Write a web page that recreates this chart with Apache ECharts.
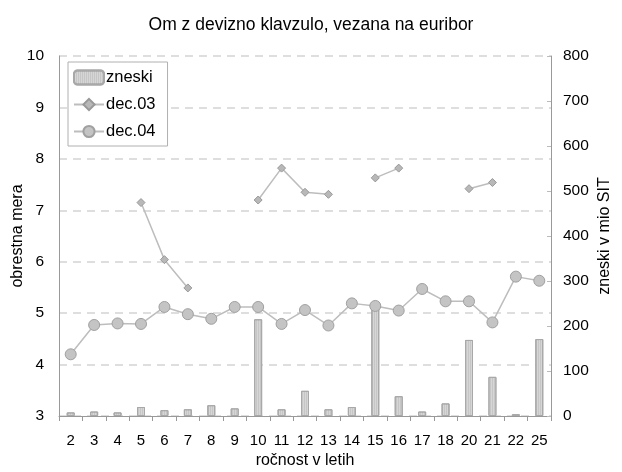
<!DOCTYPE html>
<html>
<head>
<meta charset="utf-8">
<script src="https://cdn.jsdelivr.net/npm/echarts@6/dist/echarts.min.js"></script>
<style>
  html, body { margin: 0; padding: 0; background: #fff; }
  #main { width: 622px; height: 472px; }
</style>
</head>
<body>
<div id="main"></div>
<script>
// ročnost (leta)
var years = ["2", "3", "4", "5", "6", "7", "8", "9", "10", "11", "12", "13", "14", "15", "16", "17", "18", "20", "21", "22", "25"];
// zneski v mio SIT
var zneski = [8, 10, 8, 20, 13, 15, 24, 17, 215, 15, 56, 15, 20, 240, 44, 10, 28, 169, 87, 4, 171];
// obrestna mera dec.03 (manjkajoče = '-')
var dec03 = ["-", "-", "-", 7.15, 6.04, 5.49, "-", "-", 7.2, 7.82, 7.35, 7.31, "-", 7.63, 7.82, "-", "-", 7.42, 7.54, "-", "-"];
// obrestna mera dec.04
var dec04 = [4.2, 4.77, 4.8, 4.79, 5.12, 4.98, 4.89, 5.12, 5.12, 4.79, 5.06, 4.76, 5.19, 5.14, 5.05, 5.47, 5.23, 5.23, 4.82, 5.71, 5.63];

var font = "Liberation Sans, Arial, sans-serif";
var chart = echarts.init(document.getElementById("main"));

var option = {
    animation: false,
    backgroundColor: "#fff",
    textStyle: { fontFamily: font },
    title: {
        text: "Om z devizno klavzulo, vezana na euribor",
        left: "center",
        top: 11,
        textStyle: { fontFamily: font, fontSize: 17.5, fontWeight: "normal", color: "#000" }
    },
    legend: {
        orient: "vertical",
        left: 68,
        top: 62,
        padding: [7, 12, 6, 5],
        itemGap: 10,
        itemWidth: 30,
        itemHeight: 14,
        borderColor: "#b0b0b0",
        borderWidth: 1,
        backgroundColor: "#fff",
        textStyle: { fontFamily: font, fontSize: 16.5, color: "#000", padding: [0, 0, 0, -3] },
        data: ["zneski", "dec.03", "dec.04"]
    },
    grid: { left: 59, right: 71, top: 56, bottom: 56, outerBoundsMode: "none" },
    xAxis: {
        type: "category",
        data: years,
        name: "ročnost v letih",
        nameLocation: "middle",
        nameGap: 37,
        nameMoveOverlap: false,
        nameTextStyle: { fontFamily: font, fontSize: 16, color: "#000" },
        axisLine: { lineStyle: { color: "#999" } },
        axisTick: { show: true, length: 5, lineStyle: { color: "#999" } },
        axisLabel: { fontFamily: font, fontSize: 15, color: "#000", margin: 17 }
    },
    yAxis: [
        {
            type: "value",
            min: 3,
            max: 10,
            interval: 1,
            name: "obrestna mera",
            nameLocation: "middle",
            nameGap: 33,
            nameMoveOverlap: false,
            nameRotate: 90,
            nameTextStyle: { fontFamily: font, fontSize: 16, color: "#000" },
            axisLine: { show: true, lineStyle: { color: "#999" } },
            axisTick: { show: false },
            axisLabel: { fontFamily: font, fontSize: 15.5, color: "#000", margin: 15 },
            splitLine: { show: true, lineStyle: { color: "#d4d4d4", type: [8, 6], width: 1.5 } }
        },
        {
            type: "value",
            min: 0,
            max: 800,
            interval: 100,
            name: "zneski v mio SIT",
            nameLocation: "middle",
            nameGap: 46,
            nameMoveOverlap: false,
            nameRotate: 90,
            nameTextStyle: { fontFamily: font, fontSize: 16, color: "#000" },
            axisLine: { show: true, lineStyle: { color: "#999" } },
            axisTick: { show: true, inside: true, length: 4, lineStyle: { color: "#bbb" } },
            axisLabel: { fontFamily: font, fontSize: 15.5, color: "#000", margin: 12 },
            splitLine: { show: false }
        }
    ],
    series: [
        {
            name: "zneski",
            type: "bar",
            yAxisIndex: 1,
            data: zneski,
            barWidth: 8,
            itemStyle: {
                color: "#d6d6d6",
                borderColor: "#a8a8a8",
                borderWidth: 1,
                decal: {
                    symbol: "rect",
                    symbolSize: 1,
                    dashArrayX: [1, 1],
                    dashArrayY: [4, 0],
                    color: "rgba(0,0,0,0.07)"
                }
            },
            z: 1
        },
        {
            name: "dec.03",
            type: "line",
            data: dec03,
            symbol: "diamond",
            symbolSize: 8,
            lineStyle: { color: "#bdbdbd", width: 1.5 },
            itemStyle: { color: "#b8b8b8", borderColor: "#999", borderWidth: 1 },
            z: 3
        },
        {
            name: "dec.04",
            type: "line",
            data: dec04,
            symbol: "circle",
            symbolSize: 11,
            lineStyle: { color: "#bdbdbd", width: 1.5 },
            itemStyle: { color: "#c4c4c4", borderColor: "#a0a0a0", borderWidth: 1 },
            z: 4
        }
    ]
};

chart.setOption(option);
</script>
</body>
</html>
